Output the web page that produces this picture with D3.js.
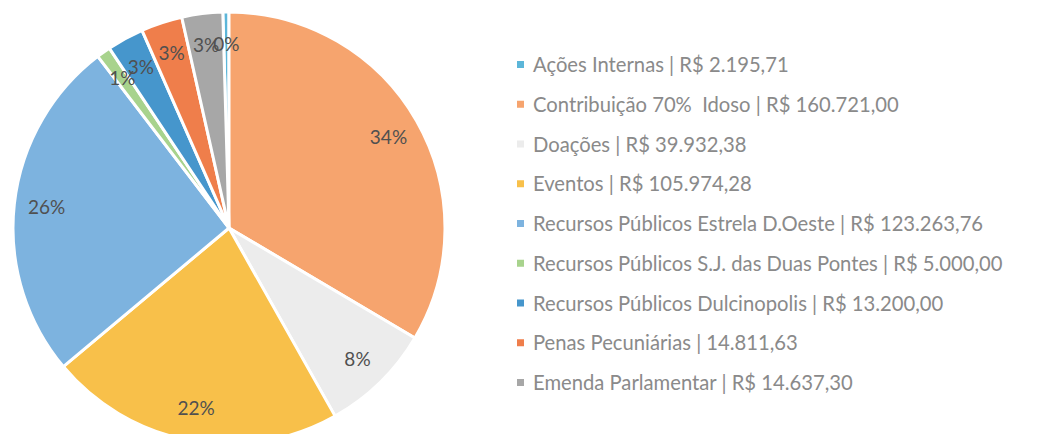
<!DOCTYPE html>
<html>
<head>
<meta charset="utf-8">
<script src="https://cdn.jsdelivr.net/npm/d3@7"></script>
<style>
  body { margin: 0; background: #fff; }
  text { font-family: Lato, "Open Sans", sans-serif; white-space: pre; }
</style>
</head>
<body>
<div id="app"></div>
<script>
// data
const labels = [
    "Ações Internas | R$ 2.195,71",
    "Contribuição 70%  Idoso | R$ 160.721,00",
    "Doações | R$ 39.932,38",
    "Eventos | R$ 105.974,28",
    "Recursos Públicos Estrela D.Oeste | R$ 123.263,76",
    "Recursos Públicos S.J. das Duas Pontes | R$ 5.000,00",
    "Recursos Públicos Dulcinopolis | R$ 13.200,00",
    "Penas Pecuniárias | 14.811,63",
    "Emenda Parlamentar | R$ 14.637,30"
];
const values = [2195.71, 160721.00, 39932.38, 105974.28, 123263.76, 5000.00, 13200.00, 14811.63, 14637.30];
const colors = ["#5cb6d9", "#f6a46e", "#ececec", "#f8c04a", "#7db3df", "#a8d38d", "#4696cc", "#ef7e4b", "#a7a7a7"];

const draw = () => {
    const width = 1051;
    const height = 434;
    const cx = 229, cy = 228, radius = 216;

    const svg = d3.select('#app')
        .append('svg')
        .attr('width', width)
        .attr('height', height);

    const total = d3.sum(values);
    // first slice ends at 12 o'clock
    const offset = values[0] / total * 2 * Math.PI;

    const pie = d3.pie()
        .sort(null)
        .startAngle(-offset)
        .endAngle(2 * Math.PI - offset)
        .value(d => d);

    const arcs = pie(values);

    const arc = d3.arc().innerRadius(0).outerRadius(radius);
    const labelArc = d3.arc().innerRadius(radius * 0.85).outerRadius(radius * 0.85);

    const g = svg.append('g')
        .attr('transform', 'translate(' + cx + ', ' + cy + ')');

    g.selectAll('path')
        .data(arcs)
        .enter()
        .append('path')
        .attr('d', arc)
        .attr('fill', (d, i) => colors[i])
        .attr('stroke', '#fff')
        .attr('stroke-width', 3)
        .attr('stroke-linejoin', 'round');

    g.selectAll('text.pct')
        .data(arcs)
        .enter()
        .append('text')
        .attr('class', 'pct')
        .attr('transform', d => 'translate(' + labelArc.centroid(d) + ')')
        .attr('text-anchor', 'middle')
        .attr('dy', '0.35em')
        .attr('font-size', '19px')
        .attr('fill', '#505050')
        .text(d => Math.round(d.data / total * 100) + '%');

    // legend
    const legendY = d3.scalePoint()
        .domain(d3.range(labels.length))
        .range([65, 383]);

    const legend = svg.append('g');

    const rows = legend.selectAll('g')
        .data(labels)
        .enter()
        .append('g')
        .attr('transform', (d, i) => 'translate(517, ' + legendY(i) + ')');

    rows.append('rect')
        .attr('x', 0)
        .attr('y', -4)
        .attr('width', 7)
        .attr('height', 7)
        .attr('fill', (d, i) => colors[i]);

    const texts = rows.append('text')
        .attr('x', 16)
        .attr('dy', '0.35em')
        .attr('font-size', '20px')
        .attr('fill', '#8a8a8a')
        .text(d => d);

    // fit the longest line to its width in the picture
    let longest = 0;
    texts.each(function () { longest = Math.max(longest, this.getComputedTextLength()); });
    const fs = 20 * 470 / longest;
    texts.attr('font-size', fs + 'px');
};

draw();
</script>
</body>
</html>
